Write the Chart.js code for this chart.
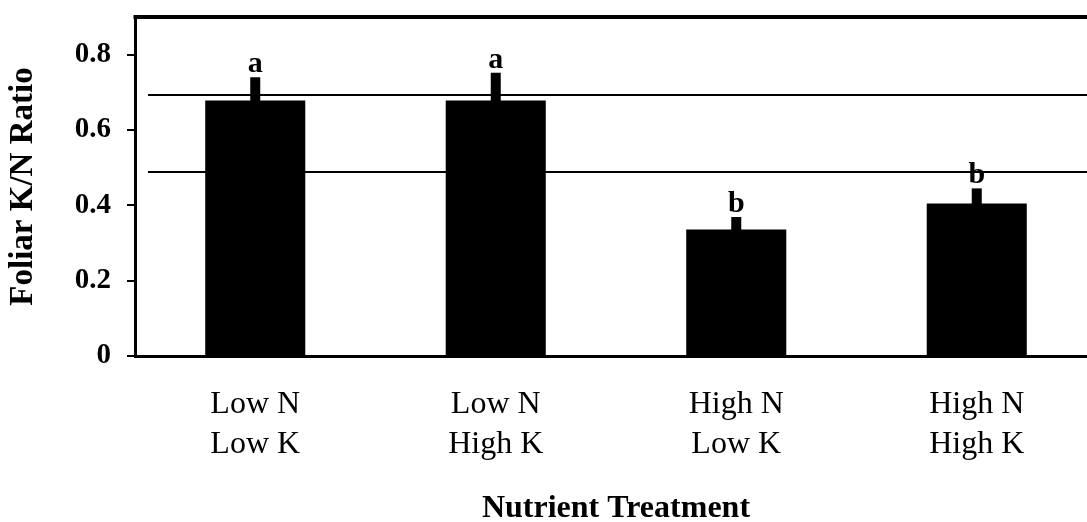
<!DOCTYPE html>
<html>
<head>
<meta charset="utf-8">
<script src="https://cdn.jsdelivr.net/npm/chart.js@4"></script>
<style>
  html, body { margin: 0; padding: 0; background: #fff; overflow: hidden; }
</style>
</head>
<body>
<canvas id="bar-chart" width="1100" height="522"></canvas>
<script>
// 처리 이름 (두 줄)
const treatments = [["Low N", "Low K"], ["Low N", "High K"], ["High N", "Low K"], ["High N", "High K"]];
// 평균값
const ratioMeans = [0.678, 0.678, 0.336, 0.405];
// 오차 막대 위쪽 끝
const ratioUpper = [0.740, 0.752, 0.369, 0.445];
// 유의성 문자
const sigLetters = ["a", "a", "b", "b"];
// 기준선
const refLines = [0.693, 0.488];
// y축 눈금
const yTicks = [0, 0.2, 0.4, 0.6, 0.8];

const serif = "'Liberation Serif', 'DejaVu Serif', serif";

// 기준선, 위쪽 테두리, 오차 막대, 문자
const extras = {
  id: "extras",
  beforeDatasetsDraw(chart) {
    const ctx = chart.ctx, y = chart.scales.y, area = chart.chartArea;
    ctx.save();
    ctx.strokeStyle = "#000";
    ctx.lineWidth = 2;
    refLines.forEach(function (v) {
      const py = Math.round(y.getPixelForValue(v));
      ctx.beginPath();
      ctx.moveTo(area.left + 13, py);
      ctx.lineTo(chart.width, py);
      ctx.stroke();
    });
    ctx.lineWidth = 4;
    ctx.beginPath();
    ctx.moveTo(area.left - 1.5, area.top);
    ctx.lineTo(chart.width, area.top);
    ctx.stroke();
    ctx.restore();
  },
  afterDatasetsDraw(chart) {
    const ctx = chart.ctx, x = chart.scales.x, y = chart.scales.y;
    ctx.save();
    ctx.fillStyle = "#000";
    ctx.font = "bold 30px " + serif;
    ctx.textAlign = "center";
    ctx.textBaseline = "alphabetic";
    for (let i = 0; i < ratioMeans.length; i++) {
      const px = x.getPixelForValue(i);
      const top = y.getPixelForValue(ratioUpper[i]);
      const base = y.getPixelForValue(ratioMeans[i]);
      ctx.fillRect(px - 5, top, 10, base - top + 1);
      ctx.fillText(sigLetters[i], px, top - 5);
    }
    ctx.restore();
  }
};

new Chart(document.getElementById("bar-chart"), {
  type: "bar",
  data: {
    labels: treatments,
    datasets: [{
      data: ratioMeans,
      backgroundColor: "#000",
      borderWidth: 0,
      barPercentage: 0.416,
      categoryPercentage: 1
    }]
  },
  options: {
    responsive: false,
    animation: false,
    layout: { padding: { top: 17, right: 3, bottom: 0, left: 0 } },
    plugins: {
      legend: { display: false },
      tooltip: { enabled: false }
    },
    scales: {
      x: {
        grid: { display: false, drawTicks: false },
        border: { display: true, color: "#000", width: 3 },
        ticks: {
          color: "#000",
          padding: 29,
          font: { family: serif, size: 32, lineHeight: 1.25 }
        },
        title: {
          display: true,
          text: "Nutrient Treatment",
          color: "#000",
          padding: { top: 0, bottom: 0 },
          font: { family: serif, size: 32, weight: "bold", lineHeight: 0.85 }
        },
        afterFit(scale) { scale.height = 166; }
      },
      y: {
        min: 0,
        max: 0.9,
        grid: { drawOnChartArea: false, color: "#000", lineWidth: 2, tickLength: 8 },
        border: { display: true, color: "#000", width: 3 },
        afterBuildTicks(scale) {
          scale.ticks = yTicks.map(function (v) { return { value: v }; });
        },
        ticks: {
          color: "#000",
          padding: 16,
          font: { family: serif, size: 29, weight: "bold" },
          callback: function (v) { return v === 0 ? "0" : v.toFixed(1); }
        },
        title: {
          display: true,
          text: "Foliar K/N Ratio",
          color: "#000",
          padding: { top: 4, bottom: 0 },
          font: { family: serif, size: 33, weight: "bold" }
        },
        afterFit(scale) {
          scale.width = 135;
          // 위쪽 여백은 layout.padding 으로만
          scale.paddingTop = 0;
          scale.paddingBottom = 0;
        }
      }
    }
  },
  plugins: [extras]
});
</script>
</body>
</html>
